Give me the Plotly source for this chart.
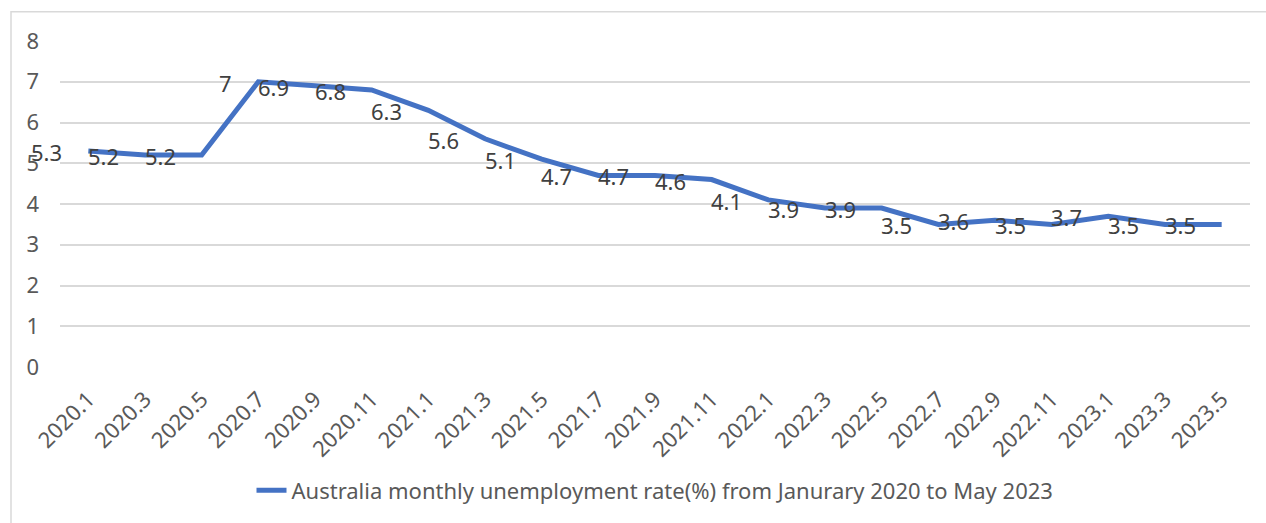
import plotly.graph_objects as go

months = ["2020.1", "2020.3", "2020.5", "2020.7", "2020.9", "2020.11",
          "2021.1", "2021.3", "2021.5", "2021.7", "2021.9", "2021.11",
          "2022.1", "2022.3", "2022.5", "2022.7", "2022.9", "2022.11",
          "2023.1", "2023.3", "2023.5"]
rates = [5.3, 5.2, 5.2, 7.0, 6.9, 6.8, 6.3, 5.6, 5.1, 4.7, 4.7, 4.6,
         4.1, 3.9, 3.9, 3.5, 3.6, 3.5, 3.7, 3.5, 3.5]
series_name = "Australia monthly unemployment rate(%) from Janurary 2020 to May 2023"
y_ticks = [0, 1, 2, 3, 4, 5, 6, 7, 8]

FONT = "Noto Sans"
GRID = "#d9d9d9"
TXT = "#595959"

fig = go.Figure()
fig.add_trace(go.Scatter(
    x=months, y=rates, mode="lines", name=series_name,
    line=dict(color="#4472C4", width=5),
    showlegend=True,
))

for i, v in enumerate(rates):
    fig.add_annotation(
        x=i, y=v, text=f"{v:g}", showarrow=False,
        xanchor="right", yanchor="middle", xshift=-24, yshift=-1,
        font=dict(family=FONT, size=22, color="#404040"),
    )

W, H = 1266, 523
L, R, T, B = 60, 16, 41, 152
pw = W - L - R
ph = H - T - B

def px(x):
    return (x - L) / pw

def py(y):
    return (H - B - y) / ph

fig.add_shape(type="rect", xref="paper", yref="paper",
              x0=px(11), x1=px(1280), y0=py(540), y1=py(11.5),
              line=dict(color=GRID, width=1.5), fillcolor="rgba(0,0,0,0)",
              layer="below")

fig.update_layout(
    width=W, height=H,
    margin=dict(l=L, r=R, t=T, b=B),
    paper_bgcolor="white", plot_bgcolor="white",
    font=dict(family=FONT, color=TXT, size=22),
    xaxis=dict(
        type="category", categoryorder="array", categoryarray=months,
        range=[-0.5, len(months) - 0.5],
        showgrid=False, zeroline=False, showline=False,
        tickangle=-45, tickfont=dict(family=FONT, size=22, color=TXT),
        ticks="", ticklabelstandoff=14,
    ),
    yaxis=dict(
        range=[0, 8], tickvals=y_ticks,
        showgrid=True, gridcolor=GRID, gridwidth=1.5,
        zeroline=False, showline=False, ticks="",
        tickfont=dict(family=FONT, size=22, color=TXT),
        ticklabelstandoff=20,
    ),
    legend=dict(
        orientation="h", x=0.5, xanchor="center", y=py(496), yanchor="middle",
        font=dict(family=FONT, size=22, color=TXT),
        bgcolor="rgba(0,0,0,0)",
    ),
)

fig.write_html("out.html")
